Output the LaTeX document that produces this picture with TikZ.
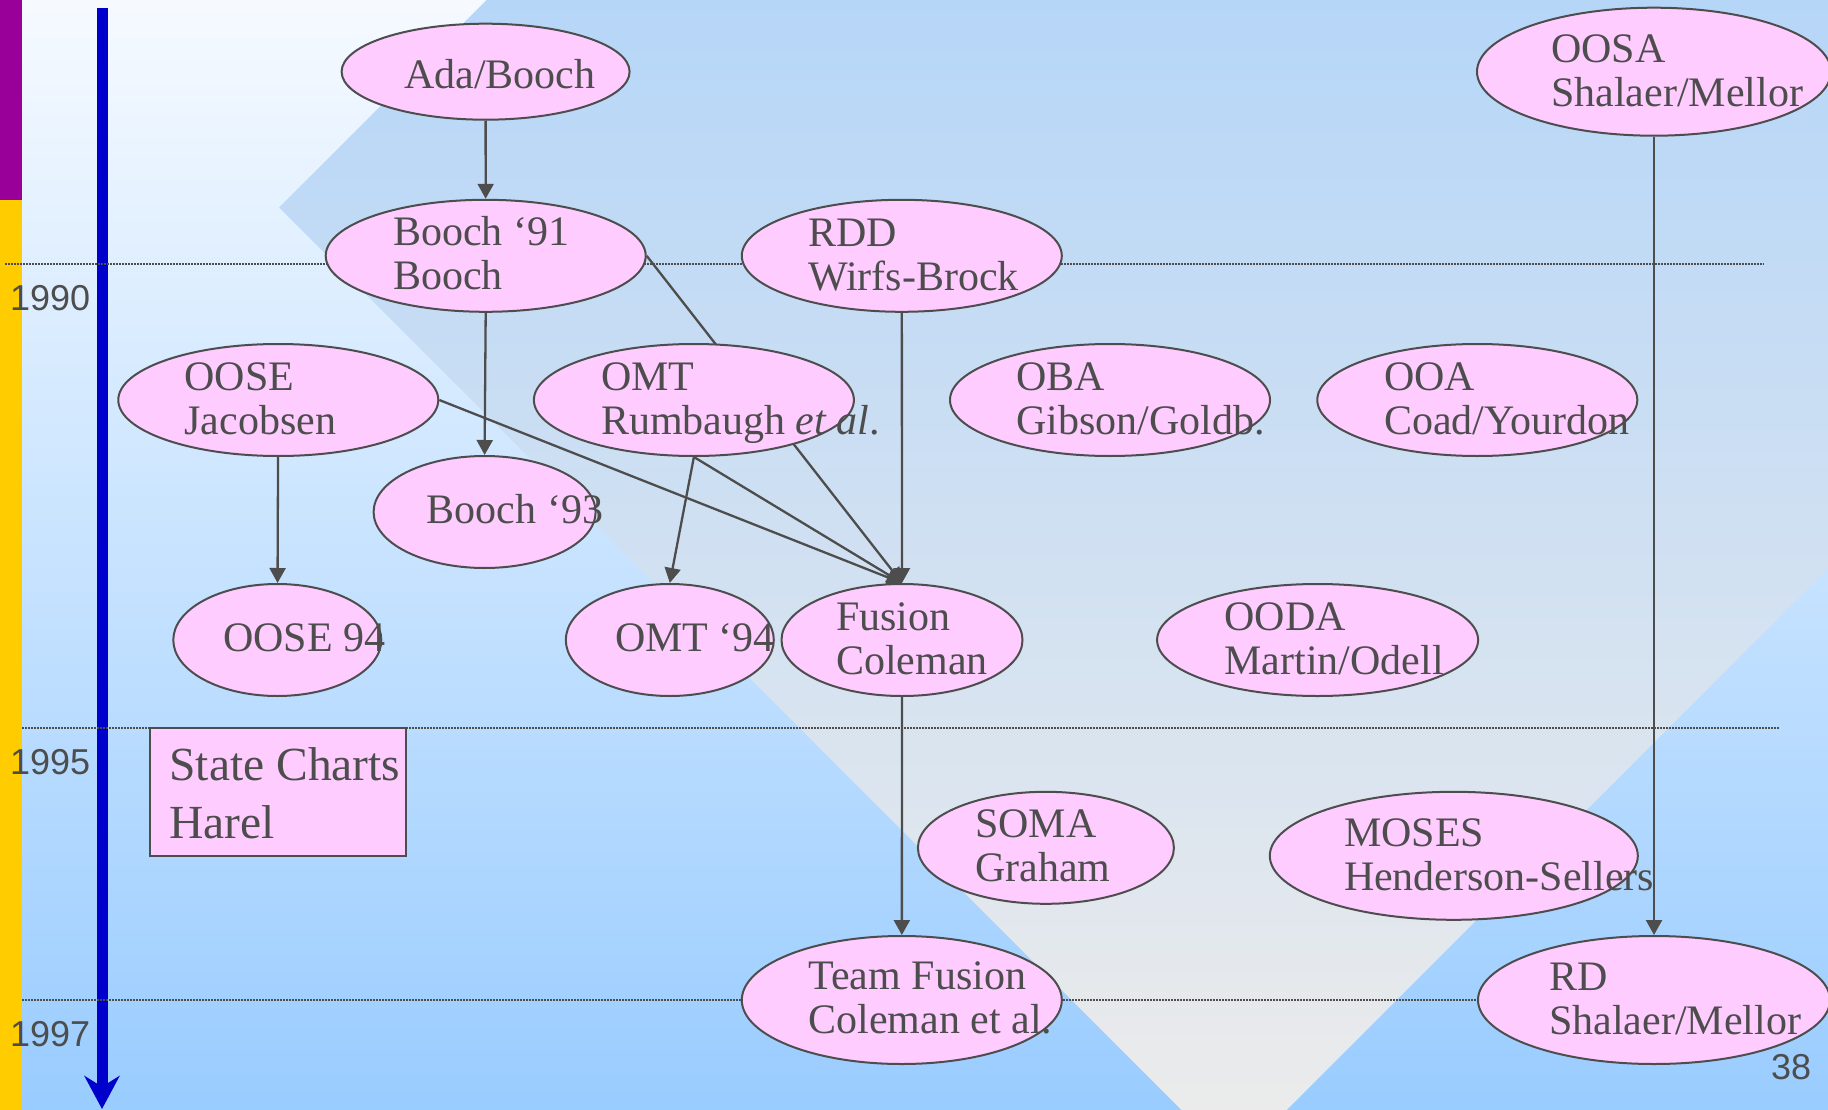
\documentclass[tikz,border=0pt]{standalone}
\usepackage{fontspec}
\setmainfont{Liberation Serif}
\newfontfamily\yearfont{Liberation Sans}
\usetikzlibrary{shapes.geometric,arrows.meta}

\definecolor{inkgray}{HTML}{4D4D4D}
\definecolor{methpink}{HTML}{FFCCFF}
\definecolor{bgtop}{HTML}{F6FAFF}
\definecolor{bgbottom}{HTML}{99CCFF}
\definecolor{kitetop}{HTML}{B6D6F8}
\definecolor{kitemid}{HTML}{DAE2EC}
\definecolor{kitebottom}{HTML}{EBEBEB}
\definecolor{timeblue}{HTML}{0000CC}
\definecolor{barpurple}{HTML}{990099}
\definecolor{baryellow}{HTML}{FFCC00}

\pgfdeclarelayer{bg}
\pgfdeclarelayer{edges}
\pgfsetlayers{bg,edges,main}

\tikzset{
  meth/.style={ellipse, draw=inkgray, fill=methpink, line width=2pt, inner sep=0pt},
  lbl/.style={anchor=base west, inner sep=0pt, text=inkgray, font=\fontsize{42}{44}\selectfont},
  flow/.style={draw=inkgray, line width=2.3pt, -{Triangle[length=15pt,width=16pt]}},
  yearline/.style={draw=inkgray, line width=1.8pt, dash pattern=on 1.5pt off 1.5pt},
  year/.style={anchor=base west, inner sep=0pt, text=inkgray, font=\yearfont\fontsize{36}{40}\selectfont},
}
\newcommand{\twolines}[2]{\begin{tabular}[t]{@{}l@{}}#1\\#2\end{tabular}}

\begin{document}
\begin{tikzpicture}[x=1pt,y=-1pt]
\useasboundingbox (0,0) rectangle (1828,1110);

\begin{pgfonlayer}{bg}
  \shade[top color=bgtop, bottom color=bgbottom] (0,0) rectangle (1828,1110);
  \begin{scope}
    \clip (279,207.5) -- (1234,-747.5) -- (2189,207.5) -- (1234,1162.5) -- cycle;
    \shade[top color=kitetop, middle color=kitemid, bottom color=kitebottom] (0,0) rectangle (1828,1110);
  \end{scope}
  \fill[barpurple] (0,0) rectangle (21.5,200);
  \fill[baryellow] (0,200) rectangle (21.5,1110);
  \draw[timeblue, line width=11pt, -{Stealth[length=33pt,width=35pt]}] (102,8) -- (102,1109);
  % year lines
  \draw[yearline] (5,263.7) -- (1764,263.7);
  \draw[yearline] (22,728) -- (1780,728);
  \draw[yearline] (22,1000) -- (1700,1000);
\end{pgfonlayer}

\node[year] (y1990) at (10,310) {1990};
\node[year] (y1995) at (10,774) {1995};
\node[year] (y1997) at (10,1046) {1997};
\node[year] (pagenum) at (1771,1079) {38};

% methods
\node[meth, minimum width=288pt, minimum height=96pt] (ada) at (485.6,71.7) {};
\node[lbl] (ada-t) at (404,88.3) {Ada/Booch};

\node[meth, minimum width=354pt, minimum height=128pt] (oosa) at (1654,71.7) {};
\node[lbl] (oosa-t) at (1551,62.3) {\twolines{OOSA}{Shalaer/Mellor}};

\node[meth, minimum width=320pt, minimum height=112pt] (booch91) at (485.7,255.8) {};
\node[lbl] (booch91-t) at (392.9,245) {\twolines{Booch ‘91}{Booch}};

\node[meth, minimum width=320pt, minimum height=112pt] (rdd) at (901.8,255.8) {};
\node[lbl] (rdd-t) at (807.9,246) {\twolines{RDD}{Wirfs-Brock}};

\node[meth, minimum width=320pt, minimum height=112pt] (oose) at (278.3,400) {};
\node[lbl] (oose-t) at (184.2,390) {\twolines{OOSE}{Jacobsen}};

\node[meth, minimum width=320pt, minimum height=112pt] (omt) at (693.9,400) {};
\node[lbl] (omt-t) at (600.8,390) {\twolines{OMT}{Rumbaugh \textit{et al}.}};

\node[meth, minimum width=320pt, minimum height=112pt] (oba) at (1110,400) {};
\node[lbl] (oba-t) at (1015.8,390) {\twolines{OBA}{Gibson/Goldb.}};

\node[meth, minimum width=320pt, minimum height=112pt] (ooa) at (1477.3,400) {};
\node[lbl] (ooa-t) at (1383.8,390) {\twolines{OOA}{Coad/Yourdon}};

\node[meth, minimum width=222pt, minimum height=112pt] (booch93) at (484.6,512) {};
\node[lbl] (booch93-t) at (426.7,523.3) {Booch ‘93};

\node[meth, minimum width=208pt, minimum height=112pt] (oose94) at (277.3,640) {};
\node[lbl] (oose94-t) at (223,651.7) {OOSE 94};

\node[meth, minimum width=208pt, minimum height=112pt] (omt94) at (669.8,640) {};
\node[lbl] (omt94-t) at (614.9,651.7) {OMT ‘94};

\node[meth, minimum width=241pt, minimum height=112pt] (fusion) at (902,640) {};
\node[lbl] (fusion-t) at (835.9,630) {\twolines{Fusion}{Coleman}};

\node[meth, minimum width=321pt, minimum height=112pt] (ooda) at (1317.6,640) {};
\node[lbl] (ooda-t) at (1224.4,630) {\twolines{OODA}{Martin/Odell}};

\node[draw=inkgray, fill=methpink, line width=2pt, inner sep=0pt, minimum width=256.6pt, minimum height=128pt] (harel) at (278.1,792) {};
\node[lbl, font=\fontsize{47.5}{57.6}\selectfont] (harel-t) at (169.3,780.7) {\twolines{State Charts}{Harel}};

\node[meth, minimum width=256pt, minimum height=112pt] (soma) at (1045.9,847.8) {};
\node[lbl] (soma-t) at (975.1,837.7) {\twolines{SOMA}{Graham}};

\node[meth, minimum width=368pt, minimum height=128pt] (moses) at (1453.8,855.8) {};
\node[lbl] (moses-t) at (1343.8,846) {\twolines{MOSES}{Henderson-Sellers}};

\node[meth, minimum width=320pt, minimum height=128pt] (teamfusion) at (901.8,1000) {};
\node[lbl] (teamfusion-t) at (808.3,989.3) {\twolines{Team Fusion}{Coleman et al.}};

\node[meth, minimum width=352pt, minimum height=128pt] (rd) at (1654,1000) {};
\node[lbl] (rd-t) at (1549,990) {\twolines{RD}{Shalaer/Mellor}};

% influences
\begin{pgfonlayer}{edges}
  \draw[flow] (ada) -- (booch91);
  \draw[flow] (booch91.south) -- (booch93.north);
  \draw[flow] (booch91.east) -- (fusion.north);
  \draw[flow] (oose) -- (oose94);
  \draw[flow] (oose.east) -- (fusion.north);
  \draw[flow] (omt.south) -- (omt94.north);
  \draw[flow] (omt.south) -- (fusion.north);
  \draw[flow] (rdd) -- (fusion);
  \draw[flow] (fusion) -- (teamfusion);
  \draw[flow] (oosa) -- (rd);
\end{pgfonlayer}

\end{tikzpicture}
\end{document}
